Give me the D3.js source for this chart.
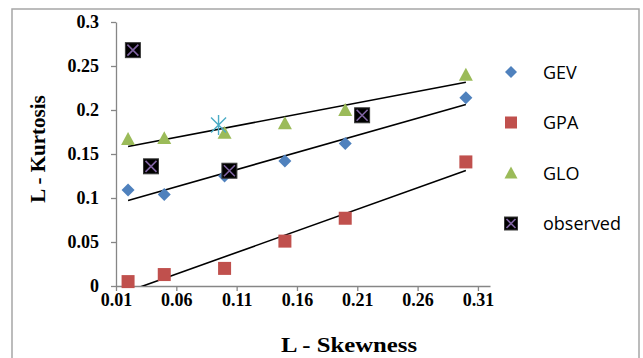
<!DOCTYPE html>
<html>
<head>
<meta charset="utf-8">
<script src="https://cdn.jsdelivr.net/npm/d3@7"></script>
<style>
  body { margin: 0; background: #fff; }
  svg { display: block; }
</style>
</head>
<body>
<svg id="chart" width="643" height="358"></svg>
<script>
// L-moment ratio diagram values
const skew = [0.02, 0.05, 0.10, 0.15, 0.20, 0.30];
const gev = [0.109, 0.104, 0.125, 0.142, 0.162, 0.214];
const gpa = [0.005, 0.013, 0.020, 0.051, 0.077, 0.141];
const glo = [0.167, 0.168, 0.174, 0.185, 0.200, 0.240];
const obsSkew = [0.024, 0.039, 0.104, 0.214];
const obsKurt = [0.268, 0.136, 0.131, 0.194];
const meanPoint = [0.095, 0.183];
const xTicks = [0.01, 0.06, 0.11, 0.16, 0.21, 0.26, 0.31];
const yTicks = [0, 0.05, 0.1, 0.15, 0.2, 0.25, 0.3];
const legendNames = ["GEV", "GPA", "GLO", "observed"];

const colors = {
  GEV: "#4F81BD",
  GPA: "#C0504D",
  GLO: "#9BBB59",
  obsX: "#8064A2",
  star: "#4BACC6",
  axis: "#868686",
};

const svg = d3.select("#chart");
const plot = { left: 116, right: 490, top: 22, bottom: 286 };

// outer frame
svg.append("rect")
  .attr("x", 12).attr("y", 9)
  .attr("width", 627).attr("height", 365)
  .attr("fill", "none")
  .attr("stroke", "#a6a6a6")
  .attr("stroke-width", 1.5);

const x = d3.scaleLinear().domain([0.01, 0.32]).range([plot.left, plot.right]);
const y = d3.scaleLinear().domain([0, 0.3]).range([plot.bottom, plot.top]);

svg.append("clipPath").attr("id", "clip")
  .append("rect")
  .attr("x", plot.left).attr("y", plot.top)
  .attr("width", plot.right - plot.left).attr("height", plot.bottom - plot.top);

// axes
const xAxis = svg.append("g")
  .attr("transform", `translate(0,${plot.bottom})`)
  .call(d3.axisBottom(x).tickValues(xTicks).tickSize(5).tickPadding(2).tickSizeOuter(0)
    .tickFormat(d3.format(".2f")));
const yAxis = svg.append("g")
  .attr("transform", `translate(${plot.left},0)`)
  .call(d3.axisLeft(y).tickValues(yTicks).tickSize(5).tickPadding(12).tickSizeOuter(0)
    .tickFormat(d => d === 0 ? "0" : String(d)));

[xAxis, yAxis].forEach(a => {
  a.selectAll("path, line").attr("stroke", colors.axis).attr("stroke-width", 1.3);
  a.selectAll("text")
    .attr("fill", "#000")
    .style("font-family", "'Liberation Serif', 'Times New Roman', serif")
    .style("font-weight", "bold")
    .style("font-size", "18px");
});

// axis titles
svg.append("text")
  .attr("x", 349).attr("y", 352)
  .attr("text-anchor", "middle")
  .attr("textLength", 136)
  .attr("lengthAdjust", "spacingAndGlyphs")
  .style("font-family", "'Liberation Serif', 'Times New Roman', serif")
  .style("font-weight", "bold")
  .style("font-size", "21px")
  .text("L - Skewness");

svg.append("text")
  .attr("transform", "translate(45,149) rotate(-90)")
  .attr("text-anchor", "middle")
  .style("font-family", "'Liberation Serif', 'Times New Roman', serif")
  .style("font-weight", "bold")
  .style("font-size", "21px")
  .text("L - Kurtosis");

// linear trend lines
function fit(xs, ys) {
  const mx = d3.mean(xs), my = d3.mean(ys);
  const sxy = d3.sum(xs, (v, i) => (v - mx) * (ys[i] - my));
  const sxx = d3.sum(xs, v => (v - mx) * (v - mx));
  const b = sxy / sxx;
  return v => my + b * (v - mx);
}

const trends = svg.append("g").attr("clip-path", "url(#clip)");
[gev, gpa, glo].forEach(series => {
  const f = fit(skew, series);
  const x0 = d3.min(skew), x1 = d3.max(skew);
  trends.append("line")
    .attr("x1", x(x0)).attr("y1", y(f(x0)))
    .attr("x2", x(x1)).attr("y2", y(f(x1)))
    .attr("stroke", "#000")
    .attr("stroke-width", 1.6);
});

// marker drawers
function diamond(g, cx, cy, s) {
  g.append("path")
    .attr("d", `M${cx},${cy - s}L${cx + s},${cy}L${cx},${cy + s}L${cx - s},${cy}Z`)
    .attr("fill", colors.GEV);
}
function square(g, cx, cy, s) {
  g.append("rect")
    .attr("x", cx - s).attr("y", cy - s)
    .attr("width", 2 * s).attr("height", 2 * s)
    .attr("fill", colors.GPA);
}
function triangle(g, cx, cy, s) {
  g.append("path")
    .attr("d", `M${cx},${cy - s}L${cx + s},${cy + s * 0.85}L${cx - s},${cy + s * 0.85}Z`)
    .attr("fill", colors.GLO);
}
function observed(g, cx, cy, s) {
  g.append("rect")
    .attr("x", cx - s).attr("y", cy - s)
    .attr("width", 2 * s).attr("height", 2 * s)
    .attr("fill", "#000")
    .attr("stroke", "#3a3a3a")
    .attr("stroke-width", 1);
  const k = s - 2;
  g.append("path")
    .attr("d", `M${cx - k},${cy - k}L${cx + k},${cy + k}M${cx + k},${cy - k}L${cx - k},${cy + k}`)
    .attr("stroke", colors.obsX)
    .attr("stroke-width", 1.6);
}
function star(g, cx, cy, s) {
  const d = s * 0.75;
  g.append("path")
    .attr("d", `M${cx - d},${cy - d}L${cx + d},${cy + d}M${cx + d},${cy - d}L${cx - d},${cy + d}M${cx},${cy - s}L${cx},${cy + s}`)
    .attr("stroke", colors.star)
    .attr("stroke-width", 1.4);
}

const marks = svg.append("g");
skew.forEach((v, i) => diamond(marks, x(v), y(gev[i]), 6.5));
skew.forEach((v, i) => square(marks, x(v), y(gpa[i]), 6.5));
skew.forEach((v, i) => triangle(marks, x(v), y(glo[i]), 7));
star(marks, x(meanPoint[0]), y(meanPoint[1]), 10);
obsSkew.forEach((v, i) => observed(marks, x(v), y(obsKurt[i]), 7.5));

// legend
const drawers = [diamond, square, triangle, observed];
const sizes = [6, 6, 6.5, 6.5];
const legend = svg.append("g");
legendNames.forEach((name, i) => {
  const cy = 72 + i * 50.5;
  drawers[i](legend, 511, cy, sizes[i]);
  legend.append("text")
    .attr("x", 543).attr("y", cy + 6.5)
    .style("font-family", "'Open Sans', sans-serif")
    .style("font-size", "18px")
    .attr("fill", "#000")
    .text(name);
});
</script>
</body>
</html>
